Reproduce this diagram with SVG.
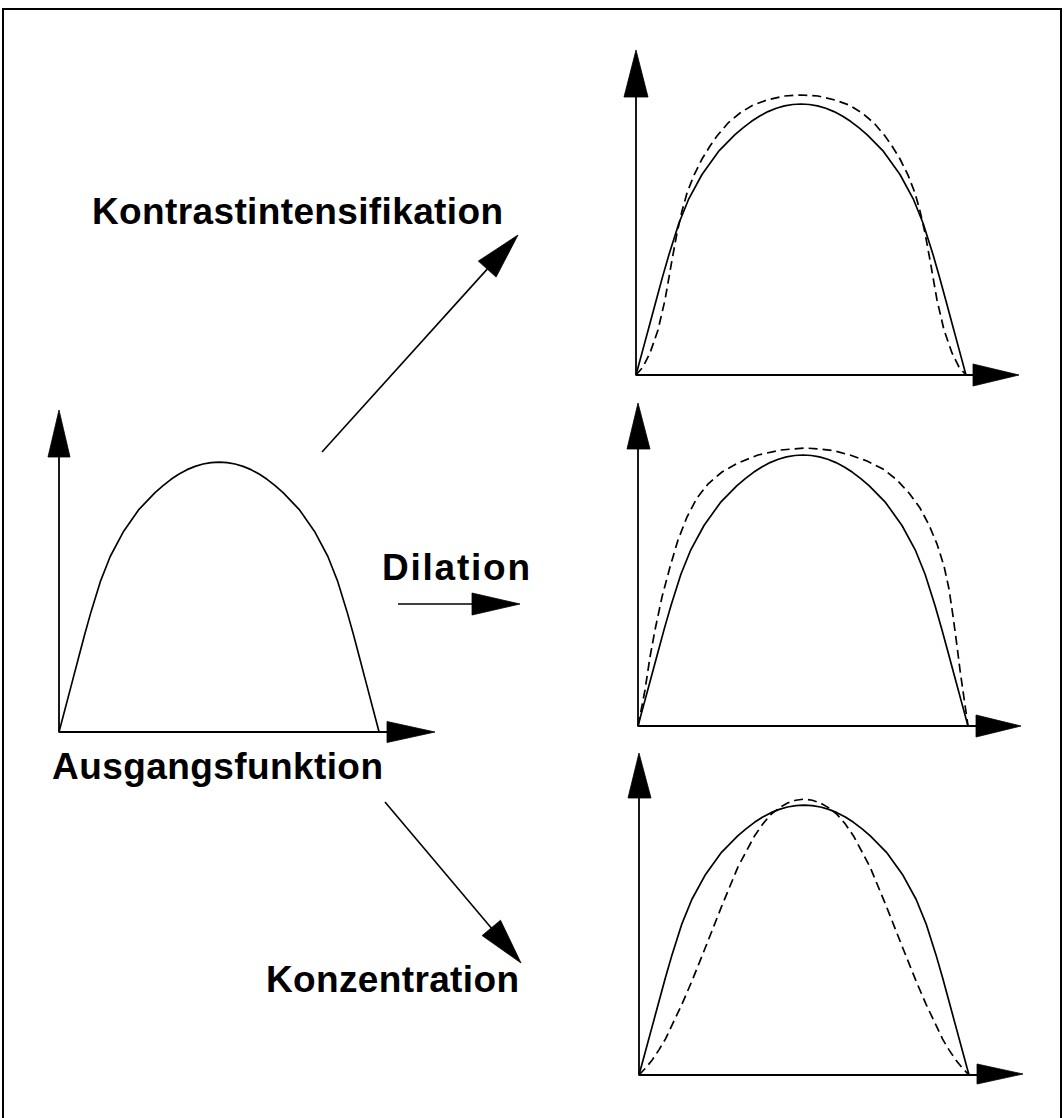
<svg xmlns="http://www.w3.org/2000/svg" width="1064" height="1118" viewBox="0 0 1064 1118">
<defs>
<style>
.ax{stroke:#000;stroke-width:1.8;fill:none}
.ah{fill:#000;stroke:#000;stroke-width:0.8;stroke-linejoin:miter}
.cv{fill:none;stroke:#000;stroke-width:1.7;stroke-linejoin:round;stroke-linecap:round}
.dv{fill:none;stroke:#000;stroke-width:1.7;stroke-dasharray:9 5}
.cn{stroke:#000;stroke-width:1.6;fill:none}
.lbl{font-family:"Liberation Sans",Arial,Helvetica,sans-serif;font-weight:bold;font-size:37px;fill:#000}
</style>
<path id="base" d="M0,0 L6.6,-24.4 L13.2,-48.8 L19.8,-73.2 L26.4,-97.6 L33,-120.6 L42.9,-151.8 L52.8,-176.2 L66,-200.5 L82.5,-223.6 L99,-240.4 L107.3,-247.3 L115.5,-253.7 L123.8,-259 L132,-263.4 L140.3,-266.7 L148.5,-269.1 L156.8,-270.5 L165,-271 L173.3,-270.5 L181.5,-269.1 L189.8,-266.7 L198,-263.4 L206.3,-259 L214.5,-253.7 L222.8,-247.3 L231,-240.4 L247.5,-223.6 L264,-200.5 L277.2,-176.2 L287.1,-151.8 L297,-120.6 L303.6,-97.6 L310.2,-73.2 L316.8,-48.8 L323.4,-24.4 L330,0"/>
</defs>
<rect x="0" y="0" width="1064" height="1118" fill="#fff"/>
<g id="frame">
<path d="M3,1118 V9 H1061 V1118" fill="none" stroke="#000" stroke-width="2"/>
</g>

<g id="plot-ausgangsfunktion">
<line class="ax" x1="59" y1="732" x2="59" y2="457"/>
<polygon class="ah" points="59,410 48,457 70,457"/>
<line class="ax" x1="59" y1="732" x2="387" y2="732"/>
<polygon class="ah" points="435,732 387,721.5 387,742.5"/>
<g transform="translate(59,732) scale(0.97,0.996)"><use href="#base" class="cv"/></g>
<text class="lbl" x="52" y="779" textLength="331">Ausgangsfunktion</text>
</g>

<g id="plot-kontrastintensifikation">
<line class="ax" x1="636" y1="375" x2="636" y2="97"/>
<polygon class="ah" points="636,50 624,97 648,97"/>
<line class="ax" x1="636" y1="375" x2="973" y2="375"/>
<polygon class="ah" points="1019,375 973,364 973,386"/>
<g transform="translate(636,375)">
<use href="#base" class="cv"/>
<path class="dv" d="M0,0 L7,-8 L14,-22 L22,-45 L29,-75 L36,-115 L41,-142 L46,-164 L51,-182 L58,-200 L66,-216 L74,-229 L81,-239 L92,-252 L104,-262 L117,-270 L131,-275 L148,-279 L165,-280 L182,-279 L199,-275 L213,-270 L226,-262 L238,-252 L249,-239 L256,-229 L264,-216 L272,-200 L279,-182 L284,-164 L289,-142 L294,-115 L301,-75 L308,-45 L316,-22 L323,-8 L330,0"/>
</g>
</g>

<g id="plot-dilation">
<line class="ax" x1="638" y1="726" x2="638" y2="449"/>
<polygon class="ah" points="638,403 627,449 650,449"/>
<line class="ax" x1="638" y1="726" x2="976" y2="726"/>
<polygon class="ah" points="1021,726 976,715 976,737"/>
<g transform="translate(638,726)">
<use href="#base" class="cv"/>
<path class="dv" d="M0,0 L3,-15 L7,-36 L12,-69 L17,-96 L24,-129 L32,-159 L40,-186 L49,-209 L59,-228 L70,-242 L84,-254 L100,-263 L120,-271 L143,-276 L167,-278 L182,-277 L195,-275.5 L212,-271 L229,-265 L245,-257 L259,-246 L271,-233 L282,-218 L291,-201 L299,-182 L306,-160 L311,-137 L315,-110 L319,-80 L322,-56 L326,-28 L330,0"/>
</g>
</g>

<g id="plot-konzentration">
<line class="ax" x1="639" y1="1075" x2="639" y2="798"/>
<polygon class="ah" points="639,753 628,798 651,798"/>
<line class="ax" x1="639" y1="1075" x2="977" y2="1075"/>
<polygon class="ah" points="1023,1074 977,1064 977,1084"/>
<g transform="translate(639,1075) scale(1,0.996)">
<use href="#base" class="cv"/>
<path class="dv" d="M0,0 L6.6,-7 L13.2,-15 L19.8,-25 L26.4,-36 L33,-50 L42.9,-71 L52.8,-94 L66,-127 L82.5,-169 L99,-209 L115.5,-240 L123.8,-252 L132,-261.7 L140.3,-268.2 L148.5,-273.1 L156.8,-275.9 L165,-277 L173.3,-275.9 L181.5,-273.1 L189.8,-268.2 L198,-261.7 L206.3,-252 L214.5,-240 L231,-209 L247.5,-169 L264,-127 L277.2,-94 L287.1,-71 L297,-50 L303.6,-36 L310.2,-25 L316.8,-15 L323.4,-7 L330,0"/>
</g>
</g>

<g id="connectors">
<line class="cn" x1="322" y1="452" x2="487.2" y2="269.1"/>
<polygon class="ah" points="518,235 496.1,277.1 478.3,261.1"/>
<line class="cn" x1="398" y1="604" x2="472" y2="604"/>
<polygon class="ah" points="520,604 472,593 472,615"/>
<line class="cn" x1="385" y1="802" x2="491.3" y2="927.9"/>
<polygon class="ah" points="521,963 500.5,920.2 482.1,935.6"/>
</g>

<g id="labels">
<text class="lbl" x="92" y="224" textLength="411">Kontrastintensifikation</text>
<text class="lbl" x="382" y="580" textLength="148">Dilation</text>
<text class="lbl" x="266" y="992" textLength="253">Konzentration</text>
</g>
</svg>
